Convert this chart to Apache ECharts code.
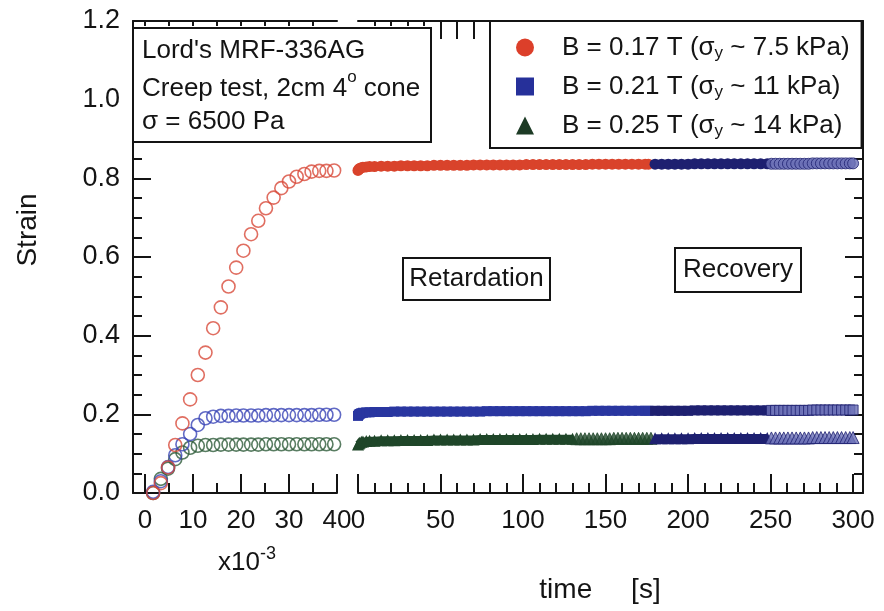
<!DOCTYPE html>
<html>
<head>
<meta charset="utf-8">
<script src="https://cdn.jsdelivr.net/npm/echarts@6/dist/echarts.min.js"></script>
<style>
  html, body { margin: 0; padding: 0; background: #fff; }
  #chart { width: 884px; height: 611px; }
</style>
</head>
<body>
<div id="chart"></div>
<script>
const FONT = '"Liberation Sans", Arial, Helvetica, sans-serif';
const INK = '#141414';

// ---- Early creep window, time in units of 1e-3 s ----
const earlyTime  = [1.7, 3.3, 4.8, 6.3, 7.8, 9.4, 11.0, 12.6, 14.2, 15.8, 17.4, 19.0, 20.5,
                    22.1, 23.6, 25.2, 26.8, 28.4, 30.0, 31.6, 33.2, 34.7, 36.3, 37.8, 39.4];
const earlyRed   = [0.000, 0.025, 0.065, 0.122, 0.177, 0.238, 0.300, 0.357, 0.419, 0.472, 0.525, 0.573, 0.616,
                    0.658, 0.692, 0.724, 0.751, 0.775, 0.792, 0.804, 0.811, 0.817, 0.819, 0.819, 0.820];
const earlyBlue  = [0.003, 0.030, 0.066, 0.096, 0.124, 0.150, 0.173, 0.190, 0.194, 0.196, 0.196, 0.197, 0.197,
                    0.197, 0.197, 0.198, 0.198, 0.198, 0.198, 0.198, 0.198, 0.198, 0.199, 0.199, 0.199];
const earlyGreen = [0.000, 0.036, 0.062, 0.086, 0.103, 0.115, 0.120, 0.122, 0.122, 0.123, 0.123, 0.123, 0.123,
                    0.123, 0.123, 0.124, 0.124, 0.124, 0.124, 0.124, 0.124, 0.124, 0.124, 0.124, 0.124];

// ---- Retardation (creep) phase, time in s ----
const creepTime = [0, 0.5, 1, 2, 3, 5, 7, 10, 14, 18, 22, 26, 30, 34, 38, 42, 46, 50, 54, 58, 62, 66, 70, 74,
                   78, 82, 86, 90, 94, 98, 102, 106, 110, 114, 118, 122, 126, 130, 134, 138, 142, 146, 150,
                   154, 158, 162, 166, 170, 174, 176];
const creepRed  = [0.820, 0.823, 0.825, 0.827, 0.828, 0.829, 0.830, 0.830, 0.831, 0.831,
                   0.831, 0.832, 0.832, 0.832, 0.832, 0.832, 0.833, 0.833, 0.833, 0.833,
                   0.833, 0.833, 0.834, 0.834, 0.834, 0.834, 0.834, 0.834, 0.834, 0.834,
                   0.835, 0.835, 0.835, 0.835, 0.835, 0.835, 0.835, 0.835, 0.835, 0.835,
                   0.836, 0.836, 0.836, 0.836, 0.836, 0.836, 0.836, 0.836, 0.836, 0.836];
const creepBlue = [0.196, 0.199, 0.201, 0.203, 0.204, 0.205, 0.205, 0.206, 0.206, 0.206,
                   0.207, 0.207, 0.207, 0.207, 0.207, 0.207, 0.207, 0.207, 0.207, 0.207,
                   0.207, 0.207, 0.207, 0.207, 0.208, 0.208, 0.208, 0.208, 0.208, 0.208,
                   0.208, 0.208, 0.208, 0.208, 0.208, 0.208, 0.208, 0.208, 0.208, 0.208,
                   0.209, 0.209, 0.209, 0.209, 0.209, 0.209, 0.209, 0.209, 0.209, 0.209];
const greenBandTime = [0, 0.5, 1, 2, 3, 5, 7, 10, 14, 18, 22, 26, 30, 34, 38, 42, 46, 50, 54, 58, 62,
                       66, 70, 74, 78, 82, 86, 90, 94, 98, 102, 106, 110, 114, 118, 122, 126, 130];
const creepGreen = [0.123, 0.126, 0.128, 0.130, 0.131, 0.132, 0.133, 0.133, 0.134, 0.134,
                    0.134, 0.135, 0.135, 0.135, 0.135, 0.135, 0.136, 0.136, 0.136, 0.136,
                    0.136, 0.136, 0.136, 0.137, 0.137, 0.137, 0.137, 0.137, 0.137, 0.137,
                    0.137, 0.137, 0.138, 0.138, 0.138, 0.138, 0.138, 0.138];
const greenLateTime = [132.5, 135, 137.5, 140, 142.5, 145, 147.5, 150, 152.5, 155, 157.5, 160,
                       162.5, 165, 167.5, 170, 172.5, 175, 177.5];
const creepGreenLate = [0.138, 0.138, 0.138, 0.138, 0.138, 0.138, 0.138, 0.138, 0.138, 0.139,
                        0.139, 0.139, 0.139, 0.139, 0.139, 0.139, 0.139, 0.139, 0.139];

// ---- Recovery phase, time in s ----
const recTime  = [180, 184, 188, 192, 196, 200, 204, 208, 212, 216, 220, 224, 228, 232, 236, 240, 244, 248];
const recRed   = [0.836, 0.836, 0.836, 0.836, 0.836, 0.836, 0.837, 0.837, 0.837,
                  0.837, 0.837, 0.837, 0.837, 0.837, 0.837, 0.837, 0.837, 0.837];
const recBlue  = [0.209, 0.209, 0.209, 0.209, 0.209, 0.209, 0.210, 0.210, 0.210,
                  0.210, 0.210, 0.210, 0.210, 0.210, 0.210, 0.210, 0.210, 0.210];
const recGreen = [0.139, 0.139, 0.139, 0.139, 0.139, 0.139, 0.140, 0.140, 0.140,
                  0.140, 0.140, 0.140, 0.140, 0.140, 0.140, 0.140, 0.140, 0.140];
const tailTime  = [250.5, 253, 255.5, 258, 260.5, 263, 265.5, 268, 270.5, 273, 275.5,
                   278, 280.5, 283, 285.5, 288, 290.5, 293, 295.5, 298, 300];
const tailRed   = [0.837, 0.837, 0.837, 0.837, 0.837, 0.837, 0.837, 0.837, 0.837, 0.837, 0.838,
                   0.838, 0.838, 0.838, 0.838, 0.838, 0.838, 0.838, 0.838, 0.838, 0.838];
const tailBlue  = [0.210, 0.210, 0.210, 0.210, 0.210, 0.210, 0.210, 0.210, 0.210, 0.210, 0.211,
                   0.211, 0.211, 0.211, 0.211, 0.211, 0.211, 0.211, 0.211, 0.211, 0.211];
const tailGreen = [0.140, 0.140, 0.140, 0.140, 0.140, 0.140, 0.140, 0.140, 0.140, 0.140, 0.141,
                   0.141, 0.141, 0.141, 0.141, 0.141, 0.141, 0.141, 0.141, 0.141, 0.141];

// ---- Tick positions ----
const earlyMajorTicks = [0, 10, 20, 30, 40];
const earlyMinorTicks = [5, 15, 25, 35];
const earlyTopTicks   = [0, 5, 10, 15, 20, 25, 30, 35];
const lateMajorTicks  = [0, 50, 100, 150, 200, 250, 300];
const lateMinorTicks  = [10, 20, 30, 40, 60, 70, 80, 90, 110, 120, 130, 140, 160, 170, 180, 190,
                         210, 220, 230, 240, 260, 270, 280, 290];
const lateTopTicks     = [10, 20, 30, 40];
const lateTopLongTicks = [50, 60, 70];

const seriesNames = ['B = 0.17 T (σy ~ 7.5 kPa)', 'B = 0.21 T (σy ~ 11 kPa)', 'B = 0.25 T (σy ~ 14 kPa)'];

const RED = '#d9432b', BLUE = '#2936a0', GREEN = '#1f4629', NAVY = '#1e2070', HATCH = '#6b70b6';
const pairs = (xs, ys) => xs.map((x, i) => [x, ys[i]]);

const tickStyle = { color: INK, width: 2 };
const lineStyle = { color: INK, width: 2 };

function xAxis(grid, position, min, max, ticks, len, opts) {
  return Object.assign({
    gridIndex: grid, type: 'value', position, min, max,
    axisLine: { show: true, onZero: false, lineStyle },
    axisTick: { show: true, inside: true, length: len, lineStyle: tickStyle, customValues: ticks },
    axisLabel: { show: false },
    splitLine: { show: false }
  }, opts || {});
}
const bottomLabel = ticks => ({ show: true, customValues: ticks, fontSize: 26, fontFamily: FONT, color: INK, margin: 15 });

function earlySeries(name, ys, color, z) {
  return {
    name, type: 'scatter', xAxisIndex: 0, yAxisIndex: 0, data: pairs(earlyTime, ys),
    symbol: 'circle', symbolSize: 13, clip: false, z,
    itemStyle: { color: 'rgba(255,255,255,0)', borderColor: color, borderWidth: 1.6 }
  };
}
function band(name, xs, ys, color, symbol, size, width, z) {
  return {
    name, type: 'line', xAxisIndex: 3, yAxisIndex: 1, data: pairs(xs, ys),
    symbol, symbolSize: size, showSymbol: true, showAllSymbol: true, clip: false, z,
    lineStyle: { color, width }, itemStyle: { color }
  };
}
function dots(name, xs, ys, fill, stroke, symbol, size, z) {
  return {
    name, type: 'scatter', xAxisIndex: 3, yAxisIndex: 1, data: pairs(xs, ys),
    symbol, symbolSize: size, clip: false, z,
    itemStyle: { color: fill, borderColor: stroke, borderWidth: 1 }
  };
}

const chart = echarts.init(document.getElementById('chart'), null, { renderer: 'canvas' });
chart.setOption({
  animation: false,
  backgroundColor: '#fff',
  grid: [
    { left: 133, top: 21, width: 204, height: 472 },
    { left: 358, top: 21, width: 505, height: 472 }
  ],
  xAxis: [
    xAxis(0, 'bottom', -2.5, 40, earlyMajorTicks, 19, { axisLabel: bottomLabel(earlyMajorTicks) }),
    xAxis(0, 'bottom', -2.5, 40, earlyMinorTicks, 10, { axisLine: { show: false } }),
    xAxis(0, 'top', -2.5, 40, earlyTopTicks, 5),
    xAxis(1, 'bottom', 0, 306, lateMajorTicks, 19, { axisLabel: bottomLabel(lateMajorTicks) }),
    xAxis(1, 'bottom', 0, 306, lateMinorTicks, 10, { axisLine: { show: false } }),
    xAxis(1, 'top', 0, 306, lateTopTicks, 5),
    xAxis(1, 'top', 0, 306, lateTopLongTicks, 18, { axisLine: { show: false } })
  ],
  yAxis: [
    {
      gridIndex: 0, type: 'value', position: 'left', min: 0, max: 1.2, interval: 0.2,
      axisLine: { show: true, onZero: false, lineStyle },
      axisTick: { show: true, inside: true, length: 18, lineStyle: tickStyle },
      minorTick: { show: true, splitNumber: 4, length: 9, lineStyle: tickStyle },
      axisLabel: { fontSize: 27, fontFamily: FONT, color: INK, margin: 13, formatter: v => v.toFixed(1) },
      splitLine: { show: false }
    },
    {
      gridIndex: 1, type: 'value', position: 'right', min: 0, max: 1.2, interval: 0.2,
      axisLine: { show: true, onZero: false, lineStyle },
      axisTick: { show: true, inside: true, length: 18, lineStyle: tickStyle },
      minorTick: { show: true, splitNumber: 4, length: 9, lineStyle: tickStyle },
      axisLabel: { show: false },
      splitLine: { show: false }
    }
  ],
  legend: {
    left: 490, top: 21, orient: 'vertical', selectedMode: false,
    backgroundColor: '#fff', borderColor: INK, borderWidth: 2,
    padding: [12, 12, 8, 26], itemGap: 10, itemWidth: 18, itemHeight: 18, z: 20,
    data: [
      { name: seriesNames[0], icon: 'circle', itemStyle: { color: '#dc3f2a', borderWidth: 0 } },
      { name: seriesNames[1], icon: 'rect', itemStyle: { color: '#26309a', borderWidth: 0 } },
      { name: seriesNames[2], icon: 'triangle', itemStyle: { color: '#1d3b25', borderWidth: 0 } }
    ],
    formatter: n => n.replace('σy', 'σ{sub|y}'),
    textStyle: {
      fontSize: 26, fontFamily: FONT, color: INK, lineHeight: 29, padding: [0, 0, 0, 23],
      rich: { sub: { fontSize: 17, lineHeight: 14, verticalAlign: 'bottom', fontFamily: FONT, color: INK } }
    }
  },
  series: [
    earlySeries('early 0.25 T', earlyGreen, '#2f5d3b', 3),
    earlySeries('early 0.21 T', earlyBlue, '#3a45b6', 4),
    earlySeries('early 0.17 T', earlyRed, '#d84a3a', 5),

    band(seriesNames[0], creepTime, creepRed, RED, 'circle', 11, 9, 3),
    band(seriesNames[1], creepTime, creepBlue, BLUE, 'rect', 10, 9, 3),
    band(seriesNames[2], greenBandTime, creepGreen, GREEN, 'triangle', 12, 8, 3),
    dots('late 0.25 T', greenLateTime, creepGreenLate, GREEN, GREEN, 'triangle', 12, 3),

    band('recovery 0.17 T', recTime, recRed, NAVY, 'circle', 11, 9, 4),
    band('recovery 0.21 T', recTime, recBlue, NAVY, 'rect', 10, 9, 4),
    band('recovery 0.25 T', recTime, recGreen, NAVY, 'triangle', 12, 8, 4),
    dots('tail 0.17 T', tailTime, tailRed, HATCH, NAVY, 'circle', 11, 4),
    dots('tail 0.21 T', tailTime, tailBlue, HATCH, NAVY, 'rect', 10, 4),
    dots('tail 0.25 T', tailTime, tailGreen, HATCH, NAVY, 'triangle', 12, 4)
  ],
  graphic: {
    elements: [
      // axis titles
      { type: 'text', z: 51, x: 28, y: 230, rotation: Math.PI / 2,
        style: { text: 'Strain', fontSize: 28, fontFamily: FONT, fill: INK, align: 'center', verticalAlign: 'middle' } },
      { type: 'text', z: 51, x: 600, y: 590,
        style: { text: 'time     [s]', fontSize: 28, fontFamily: FONT, fill: INK, align: 'center', verticalAlign: 'middle' } },

      // sample description box
      { type: 'rect', z: 50, shape: { x: 133, y: 28, width: 298, height: 114 },
        style: { fill: '#fff', stroke: INK, lineWidth: 2 } },
      { type: 'text', z: 51, x: 142, y: 51,
        style: { text: "Lord's MRF-336AG", fontSize: 26, fontFamily: FONT, fill: INK, verticalAlign: 'middle' } },
      { type: 'text', z: 51, x: 142, y: 89,
        style: { text: 'Creep test, 2cm 4{sup|o} cone', fontSize: 26, fontFamily: FONT, fill: INK,
                 verticalAlign: 'middle', lineHeight: 40,
                 rich: { sup: { fontSize: 17, lineHeight: 17, verticalAlign: 'top', fontFamily: FONT, fill: INK } } } },
      { type: 'text', z: 51, x: 142, y: 122,
        style: { text: 'σ = 6500 Pa', fontSize: 26, fontFamily: FONT, fill: INK, verticalAlign: 'middle' } },

      // phase labels
      { type: 'rect', z: 50, shape: { x: 403, y: 258, width: 147, height: 42 },
        style: { fill: '#fff', stroke: INK, lineWidth: 2 } },
      { type: 'text', z: 51, x: 476.5, y: 279,
        style: { text: 'Retardation', fontSize: 26, fontFamily: FONT, fill: INK, align: 'center', verticalAlign: 'middle' } },
      { type: 'rect', z: 50, shape: { x: 675, y: 248, width: 126, height: 44 },
        style: { fill: '#fff', stroke: INK, lineWidth: 2 } },
      { type: 'text', z: 51, x: 738, y: 270,
        style: { text: 'Recovery', fontSize: 26, fontFamily: FONT, fill: INK, align: 'center', verticalAlign: 'middle' } },

      // scale factor of the short-time axis
      { type: 'text', z: 51, x: 218, y: 563,
        style: { text: 'x10{sup|-3}', fontSize: 26, fontFamily: FONT, fill: INK, verticalAlign: 'middle', lineHeight: 36,
                 rich: { sup: { fontSize: 18, lineHeight: 18, verticalAlign: 'top', fontFamily: FONT, fill: INK } } } }
    ]
  }
});
</script>
</body>
</html>
